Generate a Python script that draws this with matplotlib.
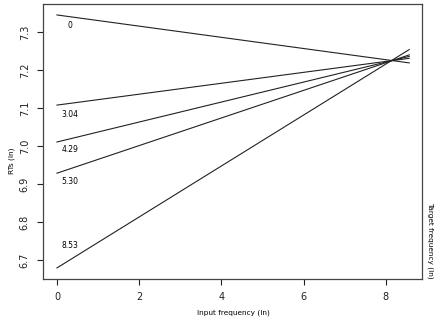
import numpy as np
import matplotlib
matplotlib.use("Agg")
import matplotlib.pyplot as plt

# target frequency levels (ln) and the fitted line end points
target_freq = ["0", "3.04", "4.29", "5.30", "8.53"]
x_start = [0, 0, 0, 0, 0]
x_end = [8.57, 8.57, 8.57, 8.57, 8.57]
rt_start = [7.345, 7.108, 7.011, 6.929, 6.680]
rt_end = [7.219, 7.231, 7.236, 7.240, 7.254]
label_y = [7.316, 7.082, 6.990, 6.908, 6.738]

fig = plt.figure(figsize=(4.4, 3.21), dpi=100)
ax = fig.add_axes([0.0977, 0.131, 0.8613, 0.8556])

for i in range(len(target_freq)):
    ax.plot([x_start[i], x_end[i]], [rt_start[i], rt_end[i]], color="#222222", lw=0.8)
    ax.text(0.32, label_y[i], target_freq[i], fontsize=5.5, ha="center", va="center")

ax.set_xlim(-0.34, 8.88)
ax.set_ylim(6.651, 7.373)
ax.set_xticks([0, 2, 4, 6, 8])
ax.set_yticks([6.7, 6.8, 6.9, 7.0, 7.1, 7.2, 7.3])
ax.set_yticklabels(["6.7", "6.8", "6.9", "7.0", "7.1", "7.2", "7.3"], rotation=90, va="center")
ax.tick_params(direction="out", length=4.5, width=0.8, labelsize=7, colors="#222222", pad=5)
for s in ax.spines.values():
    s.set_linewidth(0.9)
    s.set_color("#444444")

fig.text(0.027, 0.5, "RTs (ln)", rotation=90, fontsize=5.3, ha="center", va="center")
fig.text(0.53, 0.026, "Input frequency (ln)", fontsize=5.3, ha="center", va="center")
fig.text(0.977, 0.25, "Target frequency (ln)", rotation=-90, fontsize=5.3, ha="center", va="center")

fig.savefig("out.png", dpi=100)
